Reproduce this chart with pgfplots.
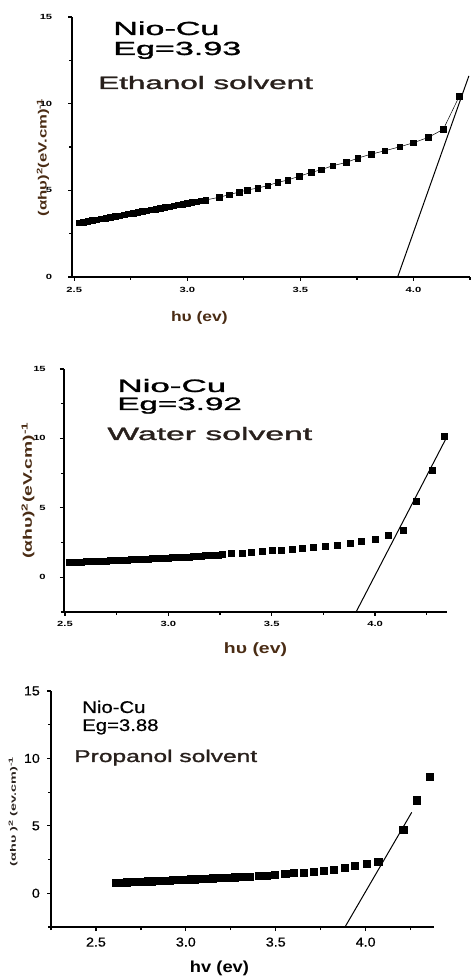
\documentclass[border=0pt]{standalone}
\usepackage{fontspec}
\setmainfont{Liberation Sans}
\newfontfamily\heavy[FakeBold=1.2]{Liberation Sans}
\newfontfamily\semiheavy[FakeBold=0.5]{Liberation Sans}
\usepackage{pgfplots}
\pgfplotsset{compat=1.18}

\definecolor{labelbrown}{RGB}{74,44,20}
\definecolor{textdark}{RGB}{40,32,28}

% Panel 1: ethanol solvent
\pgfplotstableread{
x y
2.52 3.12
2.54 3.17
2.56 3.21
2.58 3.26
2.60 3.31
2.62 3.36
2.64 3.40
2.66 3.45
2.68 3.50
2.70 3.54
2.72 3.59
2.74 3.64
2.76 3.69
2.78 3.73
2.80 3.78
2.82 3.83
2.84 3.87
2.86 3.92
2.88 3.97
2.90 4.02
2.92 4.06
2.94 4.11
2.96 4.16
2.98 4.20
3.00 4.25
3.02 4.30
3.04 4.35
3.06 4.39
3.081 4.44
3.141 4.60
3.185 4.75
3.229 4.90
3.266 5.02
3.311 5.13
3.355 5.27
3.399 5.46
3.444 5.59
3.496 5.82
3.547 6.03
3.592 6.19
3.643 6.42
3.703 6.61
3.754 6.86
3.814 7.09
3.873 7.28
3.939 7.51
3.999 7.74
4.065 8.05
4.132 8.52
4.203 10.44
}\ethanol

% Panel 2: water solvent
\pgfplotstableread{
x y
2.52 1.08
2.54 1.09
2.56 1.10
2.58 1.12
2.60 1.13
2.62 1.14
2.64 1.15
2.66 1.17
2.68 1.18
2.70 1.19
2.72 1.20
2.74 1.22
2.76 1.23
2.78 1.24
2.80 1.26
2.82 1.27
2.84 1.28
2.86 1.30
2.88 1.31
2.90 1.33
2.92 1.34
2.94 1.36
2.96 1.37
2.98 1.39
3.00 1.40
3.02 1.42
3.04 1.43
3.06 1.45
3.08 1.47
3.10 1.48
3.12 1.50
3.14 1.52
3.16 1.54
3.18 1.56
3.20 1.58
3.22 1.60
3.24 1.62
3.26 1.65
3.306 1.70
3.355 1.76
3.403 1.81
3.452 1.86
3.500 1.92
3.548 1.97
3.597 2.03
3.645 2.08
3.702 2.14
3.758 2.21
3.815 2.33
3.879 2.46
3.935 2.59
4.000 2.76
4.065 3.03
4.137 3.41
4.198 5.45
4.274 7.68
4.335 10.15
}\water

% Panel 3: propanol solvent
\pgfplotstableread{
x y
2.61 0.79
2.63 0.80
2.65 0.81
2.67 0.82
2.69 0.83
2.71 0.85
2.73 0.86
2.75 0.87
2.77 0.88
2.79 0.89
2.81 0.90
2.83 0.92
2.85 0.93
2.87 0.94
2.89 0.95
2.91 0.96
2.93 0.98
2.95 0.99
2.97 1.00
2.99 1.01
3.01 1.03
3.03 1.04
3.05 1.05
3.07 1.06
3.09 1.08
3.11 1.09
3.13 1.10
3.15 1.12
3.17 1.13
3.19 1.14
3.21 1.15
3.23 1.17
3.25 1.18
3.27 1.19
3.29 1.21
3.31 1.22
3.357 1.23
3.404 1.28
3.450 1.33
3.496 1.38
3.552 1.45
3.598 1.50
3.654 1.55
3.709 1.63
3.765 1.70
3.820 1.77
3.885 1.90
3.941 2.02
4.006 2.17
4.070 2.36
4.209 4.73
4.283 6.90
4.357 8.65
}\propanol

\pgfplotsset{
  tauc/.style={
    scale only axis,
    axis lines=left,
    axis line style={-, line width=1.6bp, black},
    tick align=outside,
    tick style={black, line width=1.2bp},
    major tick length=4bp,
    minor tick length=3bp,
    xtick={2.5,3.0,3.5,4.0},
    ytick={0,5,10,15},
    xticklabels={2.5,3.0,3.5,4.0},
    yticklabels={0,5,10,15},
    /pgf/number format/assume math mode=true,
    ymax=15,
    clip=false,
  },
}

\begin{document}
\begin{tikzpicture}[x=1bp,y=1bp]
\path[use as bounding box] (0,0) rectangle (471,977);

% ---------- Ethanol ----------
\begin{axis}[tauc,
  at={(72bp,700bp)}, anchor=south west,
  width=398bp, height=260bp,
  xmin=2.49, xmax=4.25, ymin=0,
  minor xtick={2.75,3.25,3.75,4.25},
  minor ytick={2.5,7.5,12.5},
  tick label style={font=\bfseries\fontsize{7.5}{8}\selectfont, xscale=1.5},
  yticklabel style={xshift=-7bp},
  xticklabel style={yshift=-3bp},
  xlabel={\textcolor{labelbrown}{\bfseries hυ (ev)}},
  xlabel style={at={(axis description cs:0.32,0)}, anchor=center, yshift=-41bp,
    font=\fontsize{14}{16}\selectfont, xscale=1.25},
  ylabel={\scalebox{1.4}[1]{\textcolor{labelbrown}{\bfseries (αhυ)\textsuperscript{2}(eV.cm)\textsuperscript{-1}}}},
  ylabel style={at={(axis description cs:-0.073,0.46)}, anchor=center, rotate=0,
    font=\fontsize{12}{14}\selectfont},
]
\addplot[black, line width=0.5bp, mark=square*, mark size=2.8bp,
  mark options={solid, fill=black}] table[x=x, y=y] {\ethanol};
\addplot[black, line width=1bp] coordinates {(3.93,0) (4.245,11.6)};
\end{axis}

% ---------- Water ----------
\begin{axis}[tauc,
  at={(64bp,365bp)}, anchor=south west,
  width=383bp, height=243bp,
  xmin=2.495, xmax=4.348, ymin=-2.5,
  minor xtick={2.75,3.25,3.75,4.25},
  minor ytick={-2.5,2.5,7.5,12.5},
  tick label style={font=\bfseries\fontsize{7.5}{8}\selectfont, xscale=1.5},
  yticklabel style={xshift=-6bp},
  xticklabel style={yshift=-2bp},
  xlabel={\textcolor{labelbrown}{\bfseries hυ (ev)}},
  xlabel style={at={(axis description cs:0.50,0)}, anchor=center, yshift=-38bp,
    font=\fontsize{15}{17}\selectfont, xscale=1.3},
  ylabel={\scalebox{1.55}[1]{\textcolor{labelbrown}{\bfseries (αhυ)\textsuperscript{2}(eV.cm)\textsuperscript{-1}}}},
  ylabel style={at={(axis description cs:-0.094,0.50)}, anchor=center, rotate=0,
    font=\fontsize{12.5}{14}\selectfont},
]
\addplot[only marks, mark=square*, mark size=3bp,
  mark options={fill=black, draw=black}] table[x=x, y=y] {\water};
\addplot[black, line width=1bp] coordinates {(3.908,-2.5) (4.347,10.1)};
\end{axis}

% ---------- Propanol ----------
\begin{axis}[tauc,
  at={(51bp,50bp)}, anchor=south west,
  width=383bp, height=236bp,
  xmin=2.25, xmax=4.38, ymin=-2.5,
  minor xtick={2.25,2.75,3.25,3.75,4.25},
  minor ytick={-2.5,2.5,7.5,12.5},
  tick label style={font=\semiheavy\fontsize{13}{14}\selectfont, xscale=1.1},
  yticklabel style={xshift=-3bp},
  xticklabel style={yshift=-3bp},
  xlabel={\bfseries hv (ev)},
  xlabel style={at={(axis description cs:0.44,0)}, anchor=center, yshift=-41bp,
    font=\fontsize{16}{18}\selectfont, xscale=1.15},
  ylabel={\scalebox{1.8}[1]{\bfseries (αhυ )\textsuperscript{2} (ev.cm)\textsuperscript{-1}}},
  ylabel style={at={(axis description cs:-0.099,0.49)}, anchor=center, rotate=0,
    font=\fontsize{8}{9}\selectfont, textdark},
]
\addplot[only marks, mark=square*, mark size=3.6bp,
  mark options={fill=black, draw=black}] table[x=x, y=y] {\propanol};
\addplot[black, line width=1bp] coordinates {(3.885,-2.5) (4.256,6.0)};
\end{axis}

% ---------- annotations ----------
\begin{scope}[every node/.style={anchor=base west, inner sep=0pt}]
\node[font=\heavy\fontsize{19}{20}\selectfont, xscale=1.8] at (113,942) {Nio-Cu};
\node[font=\heavy\fontsize{19}{20}\selectfont, xscale=1.8] at (113,922) {Eg=3.93};
\node[font=\heavy\fontsize{18}{20}\selectfont, xscale=1.75, text=textdark] at (98,888) {Ethanol solvent};

\node[font=\heavy\fontsize{18}{20}\selectfont, xscale=1.95] at (117,585) {Nio-Cu};
\node[font=\heavy\fontsize{18}{20}\selectfont, xscale=1.85] at (117,567) {Eg=3.92};
\node[font=\heavy\fontsize{18}{20}\selectfont, xscale=1.88, text=textdark] at (107,537) {Water solvent};

\node[font=\semiheavy\fontsize{17}{18}\selectfont, xscale=1.2] at (82,264) {Nio-Cu};
\node[font=\semiheavy\fontsize{17}{18}\selectfont, xscale=1.2] at (82,246) {Eg=3.88};
\node[font=\heavy\fontsize{17}{18}\selectfont, xscale=1.45, text=textdark] at (74,215) {Propanol solvent};
\end{scope}
\end{tikzpicture}
\end{document}
